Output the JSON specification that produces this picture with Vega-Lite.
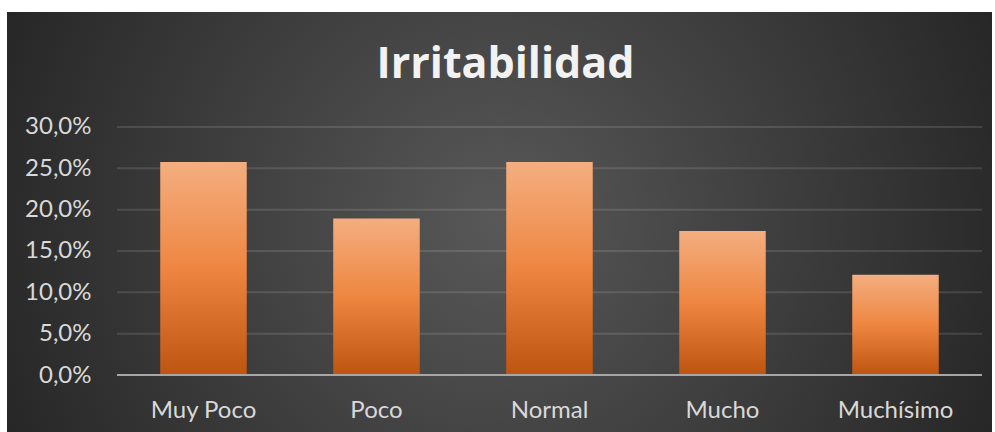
{
  "$schema": "https://vega.github.io/schema/vega-lite/v6.json",
  "width": 985,
  "height": 420,
  "autosize": "none",
  "padding": {"left": 7, "top": 12, "right": 3, "bottom": 0},
  "background": "#ffffff",
  "config": {
    "font": "Lato",
    "view": {
      "stroke": null,
      "fill": {
        "gradient": "radial",
        "x1": 0.5, "y1": 0.5, "r1": 0,
        "x2": 0.5, "y2": 0.5, "r2": 0.55,
        "stops": [
          {"offset": 0, "color": "#585858"},
          {"offset": 1, "color": "#262626"}
        ]
      }
    }
  },
  "title": {
    "text": "Irritabilidad",
    "font": "Open Sans",
    "fontSize": 43,
    "fontWeight": "bold",
    "color": "#f2f2f2",
    "anchor": "middle",
    "frame": "group",
    "baseline": "alphabetic",
    "offset": -43,
    "dy": 66,
    "dx": 6
  },
  "datasets": {
    "bars": [
      {"nivel": "Muy Poco", "porcentaje": 25.76},
      {"nivel": "Poco", "porcentaje": 18.94},
      {"nivel": "Normal", "porcentaje": 25.76},
      {"nivel": "Mucho", "porcentaje": 17.42},
      {"nivel": "Muchísimo", "porcentaje": 12.12}
    ],
    "grid": [
      {"valor": 5}, {"valor": 10}, {"valor": 15}, {"valor": 20}, {"valor": 25}, {"valor": 30}
    ]
  },
  "layer": [
    {
      "data": {"name": "grid"},
      "mark": {"type": "rule", "stroke": "#ffffff", "strokeOpacity": 0.12, "strokeWidth": 2},
      "encoding": {
        "y": {
          "field": "valor", "type": "quantitative",
          "scale": {"domain": [-6.895, 43.911], "nice": false, "zero": false},
          "axis": {
            "title": null, "orient": "left", "offset": -84, "domain": false, "ticks": false, "grid": false,
            "labelPadding": 0, "labelBaseline": "middle", "labelOverlap": false,
            "values": [0, 5, 10, 15, 20, 25, 30],
            "labelExpr": "replace(format(datum.value, '.1f'), '.', ',') + '%'",
            "labelFont": "Lato", "labelFontSize": 24, "labelColor": "#d9d9d9"
          }
        },
        "x": {"datum": 0, "type": "quantitative", "scale": {"domain": [-0.12717, 1.01156], "nice": false, "zero": false}, "axis": null},
        "x2": {"datum": 1}
      }
    },
    {
      "data": {"name": "bars"},
      "mark": {
        "type": "bar",
        "color": {
          "gradient": "linear",
          "x1": 0, "y1": 0, "x2": 0, "y2": 1,
          "stops": [
            {"offset": 0, "color": "#f4ae80"},
            {"offset": 0.5, "color": "#ee8641"},
            {"offset": 1, "color": "#bd5511"}
          ]
        }
      },
      "encoding": {
        "x": {
          "field": "nivel", "type": "nominal", "sort": null,
          "scale": {"paddingInner": 0.5, "paddingOuter": 0.5968, "align": 0.7421},
          "axis": {
            "title": null, "orient": "bottom", "offset": -15, "domain": false, "ticks": false,
            "labelPadding": 0, "labelBaseline": "alphabetic", "labelAngle": 0,
            "labelFont": "Lato", "labelFontSize": 24, "labelColor": "#d9d9d9"
          }
        },
        "y": {
          "field": "porcentaje", "type": "quantitative",
          "scale": {"domain": [-6.895, 43.911], "nice": false, "zero": false},
          "axis": {
            "title": null, "orient": "left", "offset": -84, "domain": false, "ticks": false, "grid": false,
            "labelPadding": 0, "labelBaseline": "middle", "labelOverlap": false,
            "values": [0, 5, 10, 15, 20, 25, 30],
            "labelExpr": "replace(format(datum.value, '.1f'), '.', ',') + '%'",
            "labelFont": "Lato", "labelFontSize": 24, "labelColor": "#d9d9d9"
          }
        }
      }
    },
    {
      "data": {"values": [{}]},
      "mark": {"type": "rule", "stroke": "#a6a6a6", "strokeWidth": 2},
      "encoding": {
        "y": {"datum": 0, "type": "quantitative"},
        "x": {"datum": 0, "type": "quantitative", "scale": {"domain": [-0.12717, 1.01156], "nice": false, "zero": false}, "axis": null},
        "x2": {"datum": 1}
      }
    }
  ],
  "resolve": {"scale": {"x": "independent"}}
}
